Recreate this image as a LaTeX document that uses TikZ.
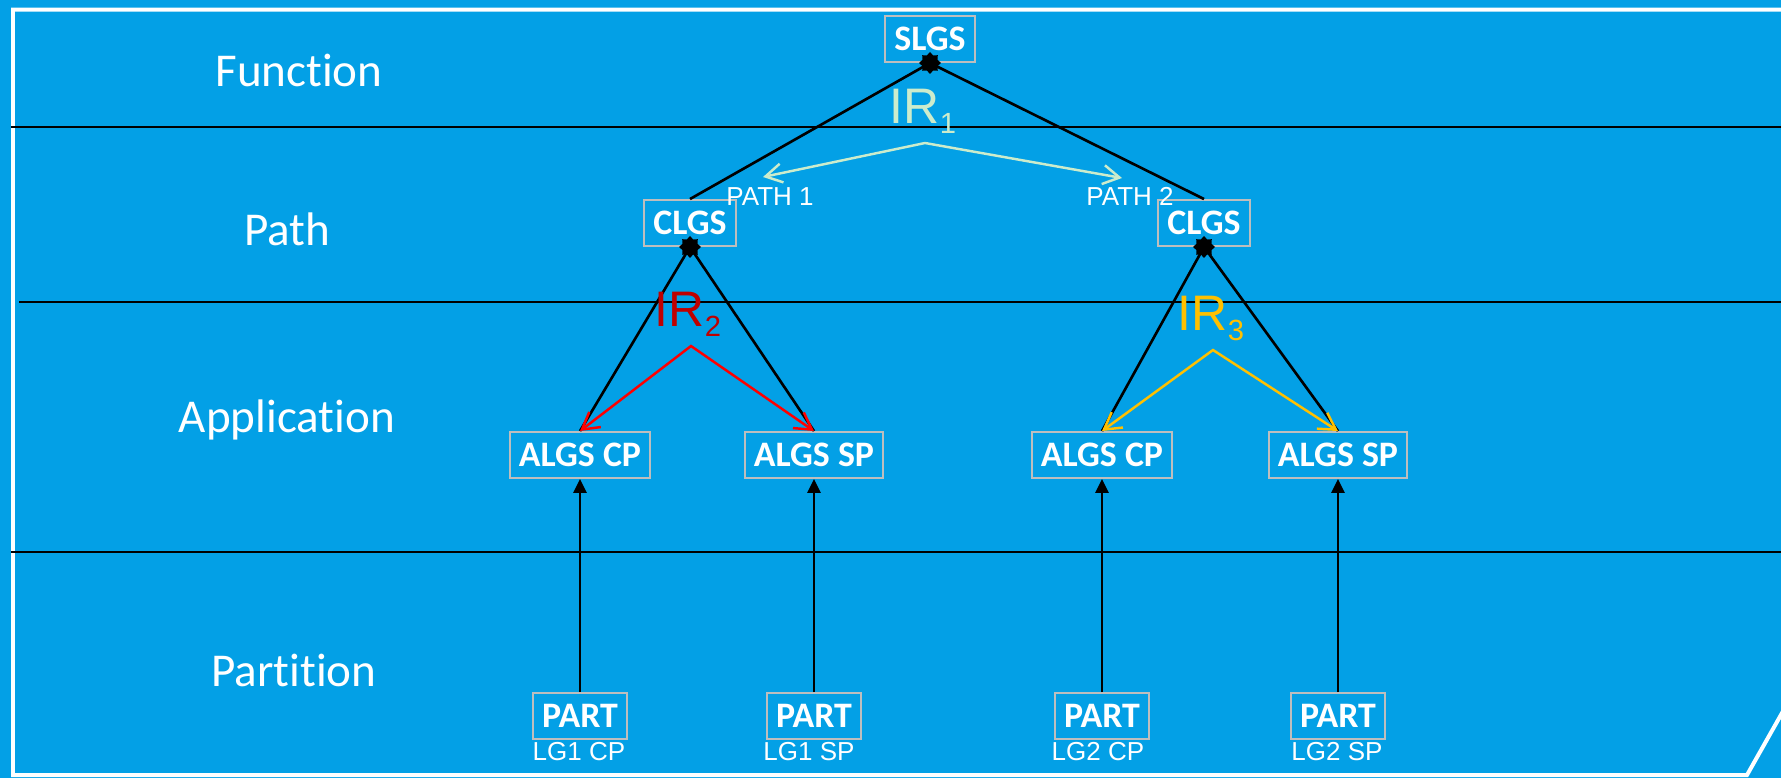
\documentclass[tikz,border=0pt]{standalone}
\usepackage{fontspec}
\setmainfont[Ligatures=NoCommon]{Carlito}
\newfontfamily\arialfont{Liberation Sans}
\usetikzlibrary{arrows.meta,shapes.geometric}
\newcommand\irname[1]{IR\raisebox{-1mm}{\fontsize{8.3pt}{9pt}\selectfont #1}}

\begin{document}
\begin{tikzpicture}[x=0.1mm,y=-0.1mm,
  lvl/.style={text=white,anchor=base,font=\fontsize{13.4pt}{16pt}\selectfont},
  gbox/.style={draw=boxgrey,line width=0.55pt,text=white,inner xsep=0.9mm,inner ysep=0pt,
    minimum height=4.6mm,font=\fontsize{10.2pt}{12pt}\selectfont\bfseries},
  tag/.style={text=white,anchor=base,font=\arialfont\fontsize{7.4pt}{9pt}\selectfont},
  irtext/.style={anchor=base,font=\arialfont\fontsize{14.2pt}{16pt}\selectfont},
  irarrow/.style={line width=0.7pt,>={Straight Barb[length=1.65mm,width=1.9mm]},<->},
  sep/.style={black,line width=0.75pt},
  link/.style={black,line width=0.75pt},
  joint/.style={star,star points=8,star point ratio=1.35,fill=black,inner sep=0pt,minimum size=2.2mm}]
  \definecolor{bgblue}{RGB}{3,160,230}
  \definecolor{boxgrey}{RGB}{190,190,190}
  \definecolor{irgreen}{RGB}{204,236,204}
  \definecolor{irdark}{RGB}{192,0,0}
  \definecolor{irred}{RGB}{255,0,0}
  \definecolor{irgold}{RGB}{255,192,0}

  %% background, white frame with the cut corner at bottom right
  \fill[bgblue] (0,0) rectangle (1781,778);
  \useasboundingbox (0,0) rectangle (1781,778);
  \clip (0,0) rectangle (1781,778);
  \draw[white,line width=0.4mm] (1800,9.5) -- (13,9.5) -- (13,775) -- (1747,775) -- (1795,690);

  %% layer separators
  \draw[sep] (11,127) -- (1781,127);
  \draw[sep] (19,302) -- (1781,302);
  \draw[sep] (11,552) -- (1781,552);

  %% layer names
  \node[lvl] (lfunc) at (299,86) {Function};
  \node[lvl] (lpath) at (287,245) {Path};
  \node[lvl] (lappl) at (287,432) {Application};
  \node[lvl] (lpart) at (294,686) {Partition};

  %% gateways, one box per level
  \node[gbox] (slgs) at (930,39) {SLGS};
  \node[gbox] (clgsA) at (690,223) {CLGS};
  \node[gbox] (clgsB) at (1204,223) {CLGS};
  \node[gbox] (algsA) at (580,455) {ALGS CP};
  \node[gbox] (algsB) at (814,455) {ALGS SP};
  \node[gbox] (algsC) at (1102,455) {ALGS CP};
  \node[gbox] (algsD) at (1338,455) {ALGS SP};
  \node[gbox] (partA) at (580,716) {PART};
  \node[gbox] (partB) at (814,716) {PART};
  \node[gbox] (partC) at (1102,716) {PART};
  \node[gbox] (partD) at (1338,716) {PART};

  %% small captions
  \node[tag] (path1) at (770,205) {PATH 1};
  \node[tag] (path2) at (1130,205) {PATH 2};
  \node[tag] (lg1cp) at (579,760) {LG1 CP};
  \node[tag] (lg1sp) at (809,760) {LG1 SP};
  \node[tag] (lg2cp) at (1098,760) {LG2 CP};
  \node[tag] (lg2sp) at (1337,760) {LG2 SP};

  %% tree links, the joints sit on the lower edge of each parent
  \coordinate (jS) at (slgs.south);
  \coordinate (jA) at (clgsA.south);
  \coordinate (jB) at (clgsB.south);
  \draw[link] (jS) -- (clgsA.north);
  \draw[link] (jS) -- (clgsB.north);
  \draw[link] (jA) -- (algsA.north);
  \draw[link] (jA) -- (algsB.north);
  \draw[link] (jB) -- (algsC.north);
  \draw[link] (jB) -- (algsD.north);
  \foreach \j in {jS,jA,jB}
    \node[joint] at (\j) {};

  %% partitions feed the applications
  \foreach \p/\a in {partA/algsA,partB/algsB,partC/algsC,partD/algsD}
    \draw[link,-{Triangle[length=1.4mm,width=1.3mm]}] (\p) -- (\a);

  %% IR labels with their split arrows
  \node[irtext,text=irgreen] (ir1) at (923,123) {\irname{1}};
  \coordinate (ir1top) at (925,143);
  \coordinate (ir1l) at (763,177);
  \coordinate (ir1r) at (1122,178);
  \draw[irarrow,irgreen] (ir1l) -- (ir1top) -- (ir1r);

  \node[irtext,text=irdark] (ir2) at (688,326) {\irname{2}};
  \coordinate (ir2top) at (691,346);
  \draw[irarrow,irred] (algsA.north) -- (ir2top) -- (algsB.north);

  \node[irtext,text=irgold] (ir3) at (1211,330) {\irname{3}};
  \coordinate (ir3top) at (1213,350);
  \draw[irarrow,irgold] (algsC.north) -- (ir3top) -- (algsD.north);
\end{tikzpicture}
\end{document}
